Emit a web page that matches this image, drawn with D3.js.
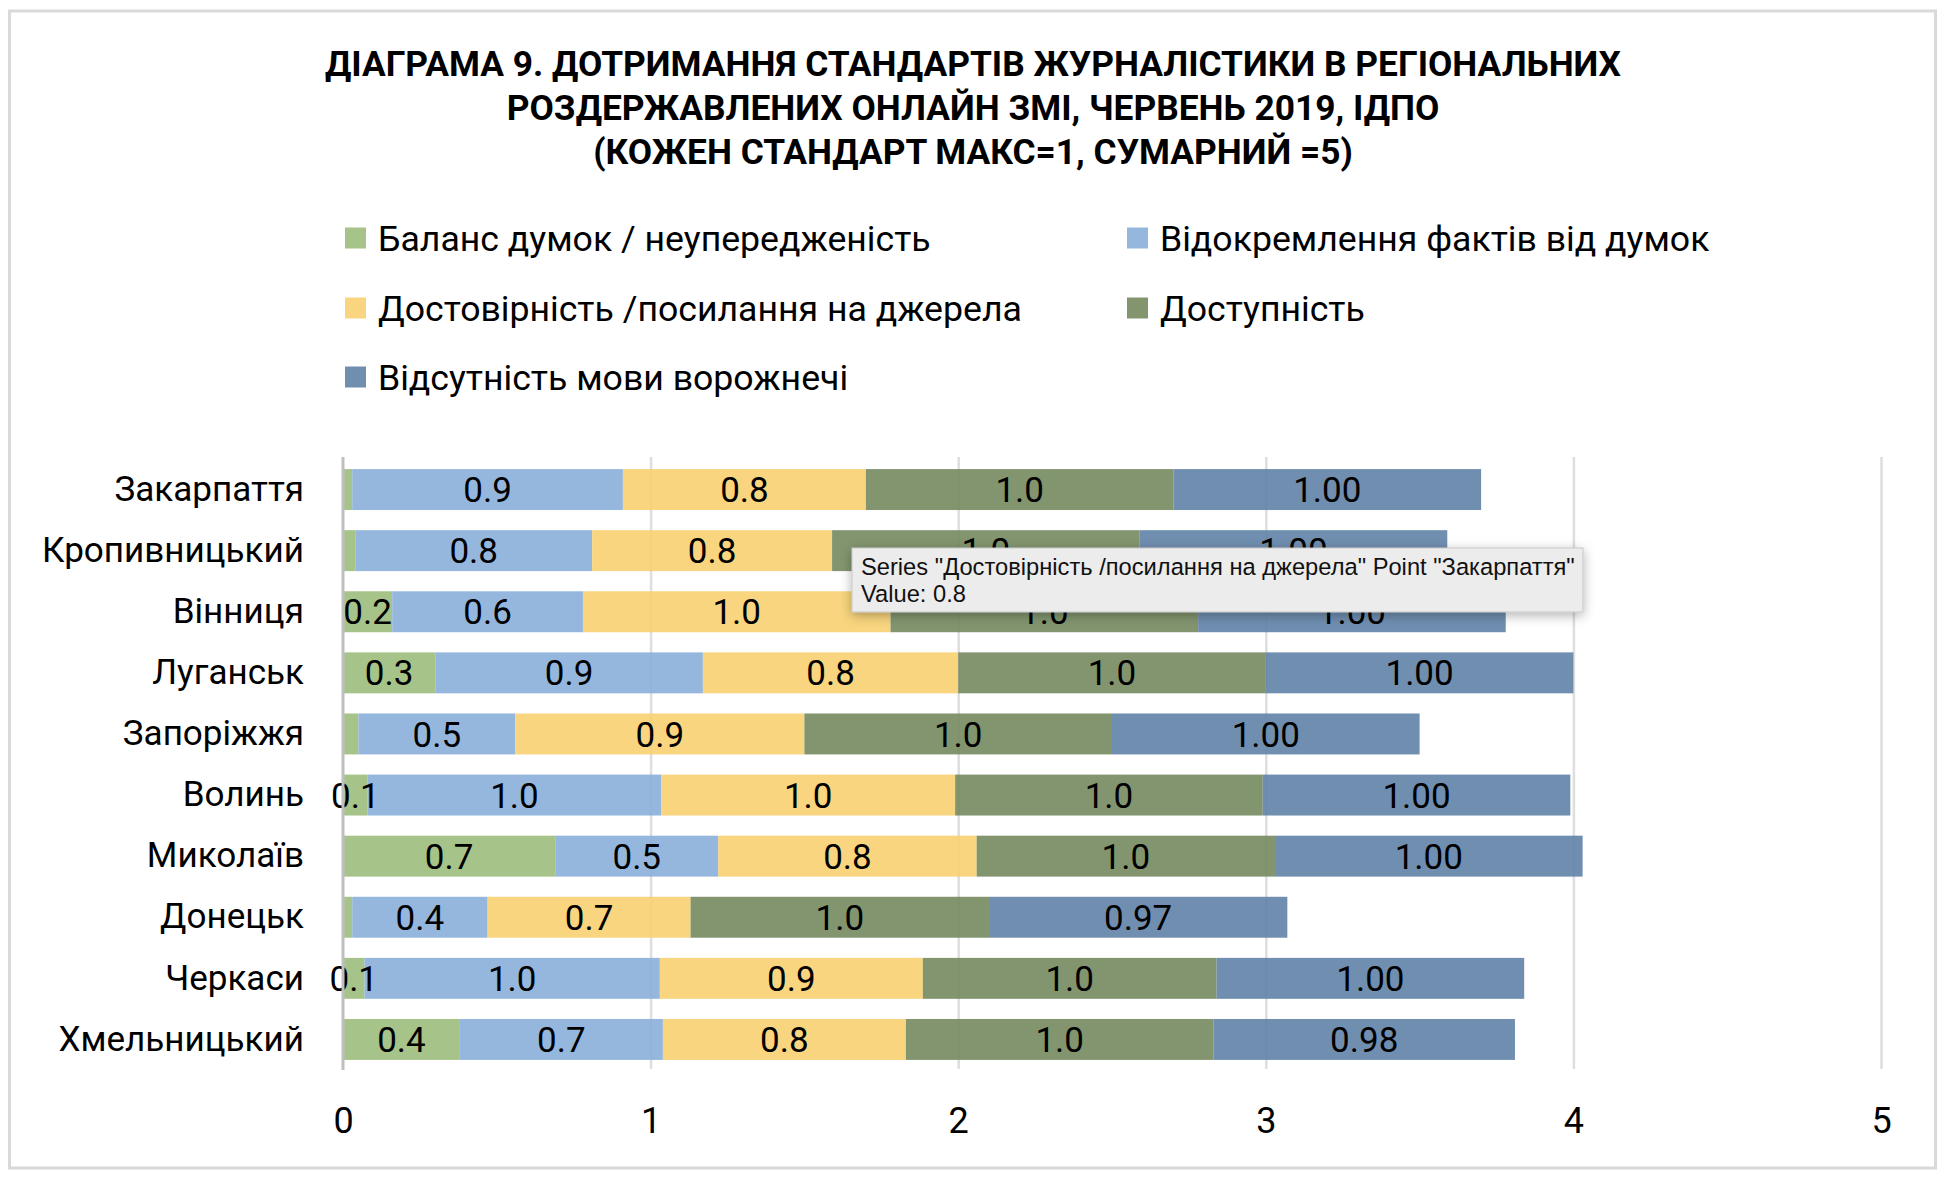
<!DOCTYPE html>
<html>
<head>
<meta charset="utf-8">
<script src="https://cdn.jsdelivr.net/npm/d3@7"></script>
<style>
  html, body { margin: 0; padding: 0; background: #ffffff; }
  svg { display: block; }
</style>
</head>
<body>
<svg id="chart" width="1946" height="1180"></svg>
<script>
// ---------------- data ----------------
const titleLines = [
  "ДІАГРАМА 9. ДОТРИМАННЯ СТАНДАРТІВ ЖУРНАЛІСТИКИ В РЕГІОНАЛЬНИХ",
  "РОЗДЕРЖАВЛЕНИХ ОНЛАЙН ЗМІ, ЧЕРВЕНЬ 2019, ІДПО",
  "(КОЖЕН СТАНДАРТ МАКС=1, СУМАРНИЙ =5)"
];
const categories = ["Закарпаття", "Кропивницький", "Вінниця", "Луганськ", "Запоріжжя",
                    "Волинь", "Миколаїв", "Донецьк", "Черкаси", "Хмельницький"];
const seriesNames = [
  "Баланс думок / неупередженість",
  "Відокремлення фактів від думок",
  "Достовірність /посилання на джерела",
  "Доступність",
  "Відсутність мови ворожнечі"
];
const balance       = [0.03, 0.04, 0.16, 0.30, 0.05, 0.08, 0.69, 0.03, 0.07, 0.38];
const separation    = [0.88, 0.77, 0.62, 0.87, 0.51, 0.955, 0.53, 0.44, 0.96, 0.66];
const reliability   = [0.79, 0.78, 1.00, 0.83, 0.94, 0.955, 0.84, 0.66, 0.855, 0.79];
const accessibility = [1.00, 1.00, 1.00, 1.00, 1.00, 1.00, 0.97, 0.97, 0.955, 1.00];
const noHateSpeech  = [1.00, 1.00, 1.00, 1.00, 1.00, 1.00, 1.00, 0.97, 1.00, 0.98];
const seriesValues = [balance, separation, reliability, accessibility, noHateSpeech];
const labelFormats = [".1f", ".1f", ".1f", ".1f", ".2f"];
const xTicks = [0, 1, 2, 3, 4, 5];
const tooltipLines = [
  'Series "Достовірність /посилання на джерела" Point "Закарпаття"',
  "Value: 0.8"
];

// ---------------- styles ----------------
const legendColors = ["#a6c489", "#95b7de", "#f8d57e", "#82956f", "#708fb0"];
// bar colours are slightly translucent; pre-compensated so they match on white
const barColors = ["#9cbd7c", "#89afda", "#f7d070", "#74895f", "#6082a7"];
const FONT = "Roboto, 'Noto Sans', 'DejaVu Sans', sans-serif";

const svg = d3.select("#chart");

// frame
svg.append("rect")
  .attr("x", 9.5).attr("y", 11).attr("width", 1926).attr("height", 1157)
  .attr("fill", "#ffffff").attr("stroke", "#d9d9d9").attr("stroke-width", 3);

// helper: common font size so that texts match target widths
function fitSize(sel, targets, base) {
  const nodes = sel.nodes();
  let r = 0;
  nodes.forEach((n, i) => { r += targets[i] / n.getComputedTextLength(); });
  return base * r / nodes.length;
}

// ---------------- title ----------------
const titleY = [64, 108, 152];
const title = svg.append("g").selectAll("text").data(titleLines).join("text")
  .attr("x", 973).attr("y", (d, i) => titleY[i])
  .attr("text-anchor", "middle").attr("dominant-baseline", "central")
  .style("font-family", FONT).style("font-weight", 700)
  .style("font-size", "30px").attr("fill", "#000")
  .text(d => d);
const tSize = fitSize(title, [1299, 933, 759], 30);
title.style("font-size", tSize + "px");

// ---------------- legend ----------------
const legendPos = [
  {x: 345, y: 238}, {x: 1127, y: 238},
  {x: 345, y: 308}, {x: 1127, y: 308},
  {x: 345, y: 377}
];
const legend = svg.append("g").selectAll("g").data(seriesNames).join("g")
  .attr("transform", (d, i) => `translate(${legendPos[i].x},${legendPos[i].y})`);
legend.append("rect")
  .attr("x", 0).attr("y", -10.5).attr("width", 21).attr("height", 21)
  .attr("fill", (d, i) => legendColors[i]);
const legText = legend.append("text")
  .attr("x", 33).attr("y", 0).attr("dy", "0.36em")
  .style("font-family", FONT).style("font-size", "30px").attr("fill", "#000")
  .text(d => d);
const lSize = fitSize(legText, [559, 552, 647, 201, 470], 30);
legText.style("font-size", lSize + "px");

// ---------------- scales ----------------
const x = d3.scaleLinear().domain([0, 5]).range([343, 1881]);
const y = d3.scaleBand().domain(categories).range([459, 1070])
  .paddingInner(0.33).paddingOuter(0.165);

// gridlines
const grid = svg.append("g").attr("transform", "translate(0,1069)")
  .call(d3.axisBottom(x).tickValues(xTicks.slice(1)).tickSize(-612).tickFormat(""));
grid.select(".domain").remove();
grid.selectAll("line").attr("stroke", "#dedede").attr("stroke-width", 2.5);

// bars
const stackData = categories.map((c, i) => {
  const o = {cat: c};
  seriesNames.forEach((s, j) => { o[s] = seriesValues[j][i]; });
  return o;
});
const stacked = d3.stack().keys(seriesNames)(stackData);

const layers = svg.append("g").selectAll("g").data(stacked).join("g")
  .attr("fill", (d, i) => barColors[i]);
layers.selectAll("rect").data(d => d).join("rect")
  .attr("x", d => x(d[0]))
  .attr("y", d => y(d.data.cat))
  .attr("width", d => x(d[1]) - x(d[0]))
  .attr("height", y.bandwidth())
  .attr("fill-opacity", 0.9);

// value labels
const labelG = svg.append("g");
stacked.forEach((layer, si) => {
  const fmt = d3.format(labelFormats[si]);
  labelG.append("g").selectAll("text")
    .data(layer.filter(d => (d[1] - d[0]) >= 0.06))
    .join("text")
    .attr("x", d => x((d[0] + d[1]) / 2))
    .attr("y", d => y(d.data.cat) + y.bandwidth() / 2)
    .attr("dy", "0.36em")
    .attr("text-anchor", "middle")
    .style("font-family", FONT).style("font-size", "35px").attr("fill", "#000")
    .text(d => fmt(d[1] - d[0]));
});

// category axis
const yAxis = svg.append("g").attr("transform", "translate(343,0)")
  .call(d3.axisLeft(y).tickSize(0).tickPadding(39));
yAxis.select(".domain").remove();
const catText = yAxis.selectAll("text")
  .style("font-family", FONT).style("font-size", "35px").attr("fill", "#000");
const catNodes = catText.filter(d => d === "Закарпаття" || d === "Кропивницький");
const cSize = fitSize(catNodes, [186, 267], 35);
catText.style("font-size", cSize + "px");

// vertical value axis line at 0
svg.append("line")
  .attr("x1", x(0)).attr("x2", x(0)).attr("y1", 457).attr("y2", 1070)
  .attr("stroke", "#bfbfbf").attr("stroke-width", 3);

// x tick labels
const xAxis = svg.append("g").attr("transform", "translate(0,1070)")
  .call(d3.axisBottom(x).tickValues(xTicks).tickSize(0).tickPadding(37).tickFormat(d3.format("d")));
xAxis.select(".domain").remove();
xAxis.selectAll("text")
  .style("font-family", FONT).style("font-size", "36px").attr("fill", "#000");

// ---------------- tooltip ----------------
const defs = svg.append("defs");
const f = defs.append("filter").attr("id", "shadow")
  .attr("x", "-10%").attr("y", "-50%").attr("width", "120%").attr("height", "200%");
f.append("feDropShadow").attr("dx", 0).attr("dy", 3).attr("stdDeviation", 6)
  .attr("flood-color", "#000").attr("flood-opacity", 0.3);

const tip = svg.append("g");
tip.append("rect")
  .attr("x", 852).attr("y", 548).attr("width", 731).attr("height", 64)
  .attr("fill", "#ececec").attr("stroke", "#c6c6c6").attr("stroke-width", 1)
  .attr("filter", "url(#shadow)");
const tipText = tip.selectAll("text").data(tooltipLines).join("text")
  .attr("x", 861).attr("y", (d, i) => [567, 594][i]).attr("dy", "0.35em")
  .style("font-family", "'Liberation Sans', Arial, sans-serif")
  .style("font-size", "20px").attr("fill", "#111")
  .text(d => d);
const tipSize = fitSize(tipText.filter((d, i) => i === 0), [714], 20);
tipText.style("font-size", tipSize + "px");
</script>
</body>
</html>
